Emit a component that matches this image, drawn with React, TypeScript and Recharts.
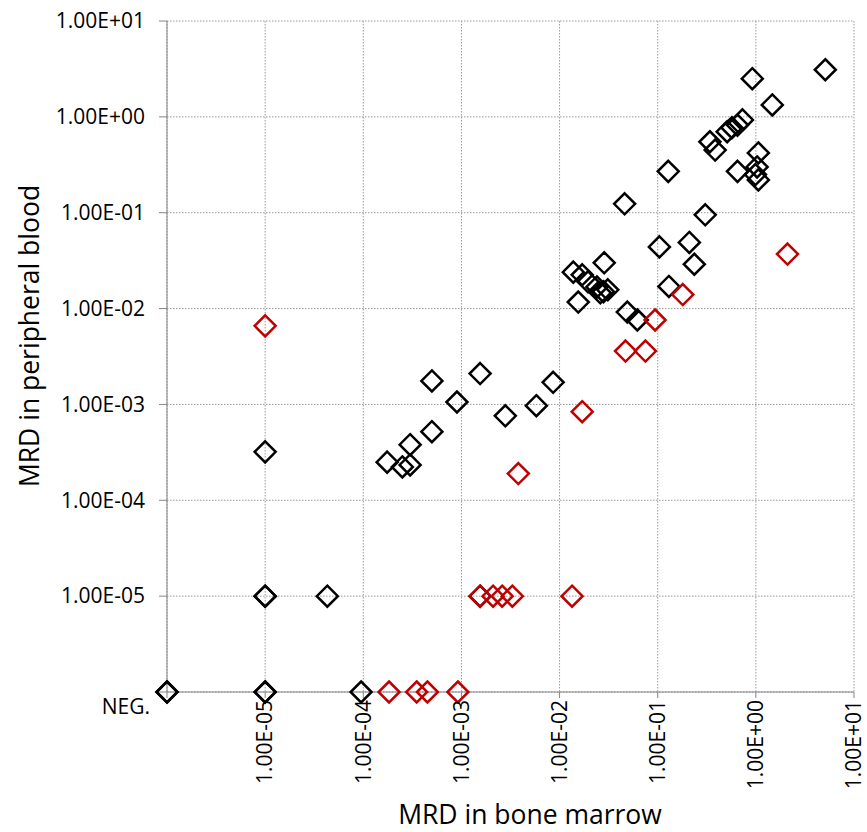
import { ScatterChart, Scatter, XAxis, YAxis, CartesianGrid, Label } from "recharts";

// NEG. results are plotted at the bottom/left edge of the log scale
const NEG = 1e-6;
const decadeTicks = [1e-6, 1e-5, 1e-4, 1e-3, 1e-2, 1e-1, 1e0, 1e1];

// [bone marrow, peripheral blood]
const blackPoints: [number, number][] = [
  [NEG, NEG], [NEG, NEG],
  [1e-5, NEG], [1e-5, NEG],
  [1e-5, 1e-5], [1e-5, 1e-5],
  [1e-5, 3.2e-4],
  [4.3e-5, 1e-5],
  [9.5e-5, NEG],
  [1.75e-4, 2.5e-4], [2.5e-4, 2.23e-4], [3.0e-4, 2.34e-4], [3.0e-4, 3.8e-4],
  [5.0e-4, 5.2e-4], [5.0e-4, 1.76e-3], [9.0e-4, 1.06e-3], [1.55e-3, 2.1e-3],
  [1.55e-3, 1e-5],
  [2.8e-3, 7.6e-4], [5.8e-3, 9.7e-4], [8.6e-3, 1.7e-3],
  [1.38e-2, 2.4e-2], [1.7e-2, 2.25e-2], [1.95e-2, 1.9e-2], [2.85e-2, 3.0e-2],
  [2.4e-2, 1.68e-2], [2.8e-2, 1.5e-2], [3.1e-2, 1.57e-2], [2.6e-2, 1.46e-2],
  [1.55e-2, 1.17e-2], [4.9e-2, 9.2e-3], [6.2e-2, 7.6e-3],
  [4.6e-2, 0.124], [0.104, 4.4e-2], [0.128, 0.27], [0.13, 1.7e-2],
  [0.21, 4.9e-2], [0.236, 2.9e-2], [0.305, 9.5e-2],
  [0.34, 0.55], [0.385, 0.45], [0.51, 0.70], [0.57, 0.77], [0.65, 0.82], [0.73, 0.93],
  [0.65, 0.27], [1.03, 0.30], [1.06, 0.42], [0.99, 0.25], [1.06, 0.22],
  [0.92, 2.5], [1.47, 1.33], [5.1, 3.1],
];

const redPoints: [number, number][] = [
  [1e-5, 6.6e-3],
  [1.83e-4, NEG], [3.5e-4, NEG], [4.5e-4, NEG], [9.2e-4, NEG],
  [1.55e-3, 1e-5], [2.1e-3, 1e-5], [2.6e-3, 1e-5], [3.3e-3, 1e-5], [1.34e-2, 1e-5],
  [3.8e-3, 1.9e-4], [1.7e-2, 8.4e-4], [4.7e-2, 3.6e-3], [7.5e-2, 3.6e-3],
  [9.4e-2, 7.6e-3], [0.18, 1.4e-2], [2.1, 3.7e-2],
];

const FONT = "'Open Sans', sans-serif";
const AXIS = "#868686";
const TICK_SIZE = 21;

const toData = (pts: [number, number][]) => pts.map(([x, y]) => ({ x, y }));

function fmt(v: number) {
  const e = Math.round(Math.log10(v));
  return `1.00E${e < 0 ? "-" : "+"}${String(Math.abs(e)).padStart(2, "0")}`;
}

function diamond(color: string) {
  return (p: any) => {
    const { cx, cy } = p;
    if (cx == null || cy == null) return <g />;
    const r = 10.5;
    return (
      <path d={`M${cx},${cy - r}L${cx + r},${cy}L${cx},${cy + r}L${cx - r},${cy}Z`}
        fill="none" stroke={color} strokeWidth={2.5} />
    );
  };
}

function XTick({ x, y, payload }: any) {
  if (payload.value === NEG) return <g />;
  return (
    <text x={x} y={y} transform={`rotate(-90 ${x} ${y})`} textAnchor="end" dy="0.35em"
      fontFamily={FONT} fontSize={TICK_SIZE} fill="#000">{fmt(payload.value)}</text>
  );
}

function YTick({ x, y, payload }: any) {
  if (payload.value === NEG) {
    return <text x={x - 7} y={y + 15} textAnchor="end" dy="0.35em"
      fontFamily={FONT} fontSize={TICK_SIZE} fill="#000">NEG.</text>;
  }
  return (
    <text x={x - 12} y={y} textAnchor="end" dy="0.35em"
      fontFamily={FONT} fontSize={TICK_SIZE} fill="#000">{fmt(payload.value)}</text>
  );
}

export default function App() {
  return (
    <div style={{ position: "absolute", left: 0, top: 0, width: 867, height: 832, background: "#fff" }}>
      <ScatterChart width={867} height={832} margin={{ top: 21, right: 13, bottom: 0, left: 0 }}>
        <CartesianGrid stroke="#999" strokeDasharray="1.5 1.5" />
        <XAxis dataKey="x" type="number" scale="log" domain={[NEG, 10]} ticks={decadeTicks}
          interval={0} height={140} stroke={AXIS} tickSize={6} tick={<XTick />}>
          <Label content={() => (
            <text x={530} y={824} textAnchor="middle" fontFamily={FONT} fontSize={26.5} fill="#000">
              MRD in bone marrow
            </text>
          )} />
        </XAxis>
        <YAxis dataKey="y" type="number" scale="log" domain={[NEG, 10]} ticks={decadeTicks}
          interval={0} width={167} stroke={AXIS} tickSize={8} tick={<YTick />}>
          <Label content={() => (
            <text x={30} y={336} transform="rotate(-90 30 336)" textAnchor="middle" dy="0.35em"
              fontFamily={FONT} fontSize={26.5} fill="#000">
              MRD in peripheral blood
            </text>
          )} />
        </YAxis>
        <Scatter data={toData(blackPoints)} shape={diamond("#000")} isAnimationActive={false} />
        <Scatter data={toData(redPoints)} shape={diamond("#C00000")} isAnimationActive={false} />
      </ScatterChart>
    </div>
  );
}
